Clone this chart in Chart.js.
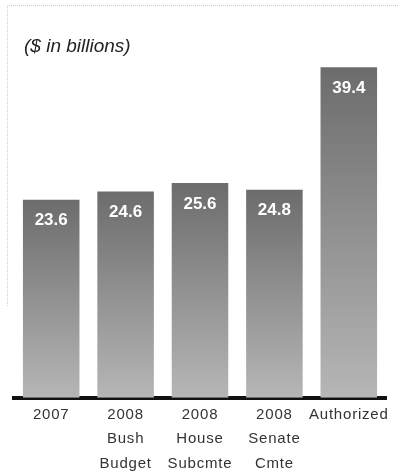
<!DOCTYPE html>
<html>
<head>
<meta charset="utf-8">
<script src="https://cdn.jsdelivr.net/npm/chart.js@4/dist/chart.umd.min.js"></script>
<style>
  html, body { margin: 0; padding: 0; background: #fff; }
  #wrap { position: relative; width: 401px; height: 475px; }
  #frame { position: absolute; left: 7px; top: 5px; width: 390px; height: 300px;
           border-top: 1px dotted #c8c8c8; border-left: 1px dotted #d0d0d0; }
  #note { position: absolute; left: 24px; top: 35px; font: italic 19px "Liberation Sans", Arial, sans-serif; color: #222; }
  canvas { position: absolute; left: 0; top: 0; }
</style>
</head>
<body>
<div id="wrap">
  <div id="frame"></div>
  <canvas id="c" width="401" height="475"></canvas>
  <div id="note">($ in billions)</div>
</div>
<script>
// ── DATA ──
const categories = [
  ['2007'],
  ['2008', 'Bush', 'Budget'],
  ['2008', 'House', 'Subcmte'],
  ['2008', 'Senate', 'Cmte'],
  ['Authorized']
];
const values = [23.6, 24.6, 25.6, 24.8, 39.4];

const FONT = "'Liberation Sans', Arial, sans-serif";

// vertical gradient per bar, dark at the top, light at the base
function barFill(ctx) {
  const chart = ctx.chart;
  const area = chart.chartArea;
  if (!area || ctx.parsed == null) return '#8a8a8a';
  const y = chart.scales.y;
  const top = y.getPixelForValue(ctx.parsed.y);
  const g = chart.ctx.createLinearGradient(0, top, 0, area.bottom);
  g.addColorStop(0, '#6c6c6c');
  g.addColorStop(1, '#b6b6b6');
  return g;
}

// slightly spaced tick text, like the scanned original
const spacing = {
  id: 'spacing',
  beforeDraw(chart) { chart.ctx.letterSpacing = '0.8px'; },
  afterDraw(chart) { chart.ctx.letterSpacing = '0px'; }
};

// value labels inside each bar, near its top
const valueLabels = {
  id: 'valueLabels',
  afterDatasetsDraw(chart) {
    const { ctx } = chart;
    const meta = chart.getDatasetMeta(0);
    ctx.save();
    ctx.letterSpacing = '0px';
    ctx.font = `bold 17px ${FONT}`;
    ctx.fillStyle = '#ffffff';
    ctx.textAlign = 'center';
    ctx.textBaseline = 'middle';
    meta.data.forEach((bar, i) => {
      ctx.fillText(values[i].toFixed(1), bar.x, bar.y + 21);
    });
    ctx.restore();
  }
};

new Chart(document.getElementById('c'), {
  type: 'bar',
  data: {
    labels: categories,
    datasets: [{
      data: values,
      backgroundColor: barFill,
      borderWidth: 0,
      barPercentage: 0.76,
      categoryPercentage: 1
    }]
  },
  options: {
    responsive: false,
    animation: false,
    layout: { padding: { left: 14, right: 15, top: 22, bottom: -6 } },
    plugins: { legend: { display: false }, tooltip: { enabled: false } },
    scales: {
      x: {
        grid: { display: false, drawTicks: false },
        border: { display: true, color: '#111', width: 4 },
        ticks: {
          color: '#333333',
          font: { family: FONT, size: 15, lineHeight: 1.63 },
          padding: 5,
          maxRotation: 0,
          autoSkip: false
        }
      },
      y: {
        display: false,
        min: 0,
        max: 44.8
      }
    }
  },
  plugins: [spacing, valueLabels]
});
</script>
</body>
</html>
